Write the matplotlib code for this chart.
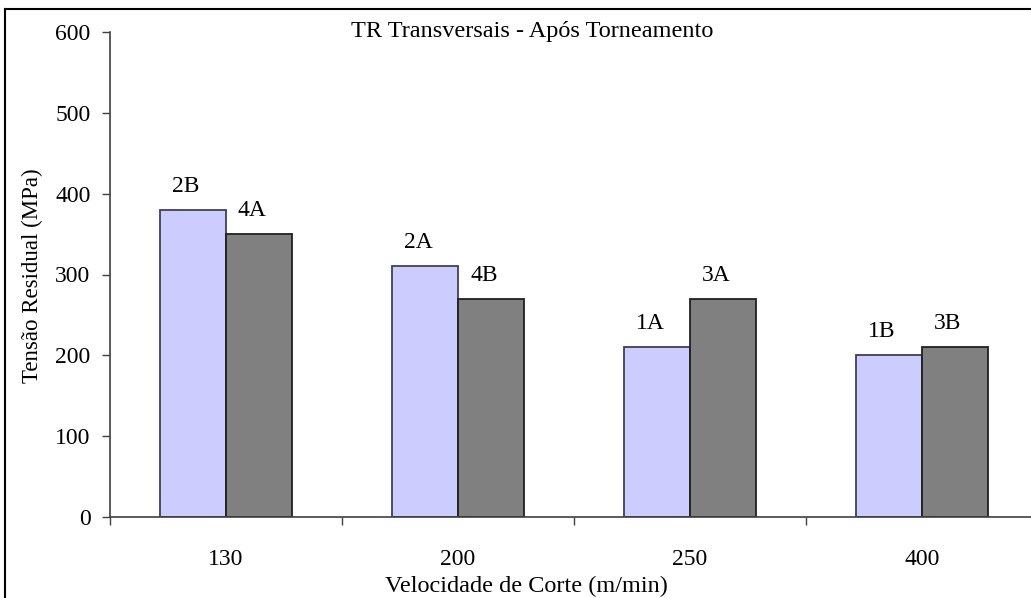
import matplotlib.pyplot as plt
import numpy as np

plt.rcParams['font.family'] = ['Liberation Serif', 'DejaVu Serif']

categorias = ['130', '200', '250', '400']
valores_a = [380, 310, 210, 200]
valores_b = [350, 270, 270, 210]
rotulos_a = ['2B', '2A', '1A', '1B']
rotulos_b = ['4A', '4B', '3A', '3B']
yticks = [0, 100, 200, 300, 400, 500, 600]

fig = plt.figure(figsize=(10.31, 5.98), dpi=100)
ax = fig.add_axes([110/1031, 81/598, 928/1031, 485/598])

x = np.arange(len(categorias))
w = 0.284
b1 = ax.bar(x - w/2, valores_a, w, color='#CCCCFF', edgecolor='#404050', linewidth=1.3)
b2 = ax.bar(x + w/2, valores_b, w, color='#808080', edgecolor='#202020', linewidth=1.3)

for bars, labs in ((b1, rotulos_a), (b2, rotulos_b)):
    for r, lab in zip(bars, labs):
        ax.annotate(lab, (r.get_x() + r.get_width()/2, r.get_height()),
                    xytext=(-5, 17), textcoords='offset points',
                    ha='center', va='center', fontsize=17)

ax.set_xlim(-0.5, len(categorias) - 0.5)
ax.set_ylim(0, 600)
ax.set_yticks(yticks)
ax.tick_params(axis='y', direction='out', length=6, width=1, color='#404040', labelsize=17, pad=8)

ax.set_xticks(x)
ax.set_xticklabels(categorias, fontsize=17)
ax.tick_params(axis='x', length=0, pad=23)
ax.set_xticks(np.arange(len(categorias) + 1) - 0.5, minor=True)
ax.tick_params(axis='x', which='minor', direction='out', length=6, width=1, color='#404040')

for s in ('top', 'right'):
    ax.spines[s].set_visible(False)
for s in ('left', 'bottom'):
    ax.spines[s].set_color('#404040')
    ax.spines[s].set_linewidth(1.2)

fig.text(532/1031, 1 - 31/598, 'TR Transversais - Após Torneamento', ha='center', va='center', fontsize=17.5)
fig.text(32/1031, 1 - 276/598, 'Tensão Residual (MPa)', rotation=90, ha='center', va='center', fontsize=16.5)
fig.text(526/1031, 1 - 586/598, 'Velocidade de Corte (m/min)', ha='center', va='center', fontsize=17.5)

fig.add_artist(plt.Line2D([5/1031, 5/1031], [-0.01, 1 - 9/598], transform=fig.transFigure, color='black', linewidth=1.5))
fig.add_artist(plt.Line2D([5/1031, 1.01], [1 - 9/598, 1 - 9/598], transform=fig.transFigure, color='black', linewidth=1.5))

fig.savefig('out.png', dpi=100)
